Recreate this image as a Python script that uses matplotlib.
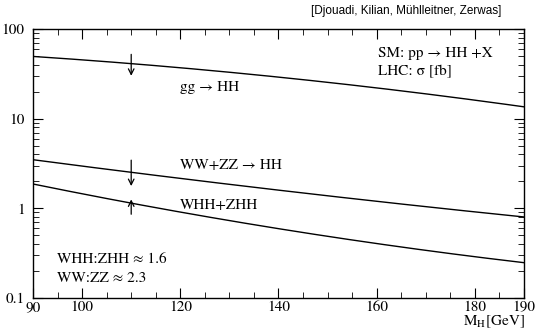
import matplotlib
matplotlib.use("Agg")
import matplotlib.pyplot as plt
from matplotlib.ticker import FixedLocator, NullFormatter, LogLocator
import numpy as np

# Higgs mass [GeV] and cross sections [fb]
mh = [90, 110, 138, 163, 190]
sigma_gg = [49.5, 41.4, 28.9, 21.8, 13.4]
mh_vv = [90, 110, 138, 160, 190]
sigma_vv = [3.5, 2.5, 1.65, 1.2, 0.80]
mh_vh = [90, 110, 138, 160, 190]
sigma_vh = [1.88, 1.14, 0.60, 0.42, 0.245]

plt.rcParams['font.family'] = ['STIXGeneral', 'Liberation Serif', 'DejaVu Serif']
plt.rcParams['mathtext.fontset'] = 'stix'

fig = plt.figure(figsize=(5.38, 3.34), dpi=100)
ax = fig.add_axes([33/538, 1 - 298/334, (524-33)/538, (298-29)/334])

def smooth(x, y):
    xs = np.linspace(x[0], x[-1], 200)
    # light smoothing via quadratic fit in log space
    c = np.polyfit(x, np.log10(y), 2)
    return xs, 10 ** np.polyval(c, xs)

for x, y in [(mh, sigma_gg), (mh_vv, sigma_vv), (mh_vh, sigma_vh)]:
    xs, ys = smooth(x, y)
    ax.plot(xs, ys, color='black', lw=1.0)

ax.set_yscale('log')
ax.set_xlim(90, 190)
ax.set_ylim(0.1, 100)

ax.xaxis.set_major_locator(FixedLocator([90, 100, 120, 140, 160, 180, 190]))
ax.xaxis.set_minor_locator(FixedLocator(list(range(95, 190, 5))))
ax.set_xticklabels(['90', '100', '120', '140', '160', '180', '190'])
ax.yaxis.set_major_locator(FixedLocator([0.1, 1, 10, 100]))
ax.set_yticklabels(['0.1', '1', '10', '100'])
ax.yaxis.set_minor_locator(LogLocator(base=10, subs=np.arange(2, 10)))
ax.yaxis.set_minor_formatter(NullFormatter())
ax.tick_params(which='both', direction='in', top=True, right=True, labelsize=11)
ax.tick_params(axis='x', pad=2)
ax.tick_params(axis='y', pad=6)
ax.tick_params(which='major', length=7)
ax.tick_params(which='minor', length=4)
for s in ax.spines.values():
    s.set_linewidth(1.0)

# arrows at M_H = 110
arr = dict(arrowstyle='->', color='black', lw=0.9)
ax.annotate('', xy=(110, 28), xytext=(110, 56), arrowprops=arr)
ax.annotate('', xy=(110, 1.65), xytext=(110, 3.7), arrowprops=arr)
ax.annotate('', xy=(110, 1.35), xytext=(110, 0.8), arrowprops=arr)

def at(px, py):
    return ((px - 33) / 491, (298 - py) / 269)

ax.text(*at(180, 87), 'gg → HH', fontsize=11, va='center', transform=ax.transAxes)
ax.text(*at(180, 165), 'WW+ZZ → HH', fontsize=11, va='center', transform=ax.transAxes)
ax.text(*at(180, 205), 'WHH+ZHH', fontsize=11, va='center', transform=ax.transAxes)
ax.text(*at(378, 53), 'SM: pp → HH +X', fontsize=11, va='center', transform=ax.transAxes)
ax.text(*at(378, 72), 'LHC: σ [fb]', fontsize=11, va='center', transform=ax.transAxes)
ax.text(*at(57, 259), 'WHH:ZHH ≈ 1.6', fontsize=11, va='center', transform=ax.transAxes)
ax.text(*at(57, 278), 'WW:ZZ ≈ 2.3', fontsize=11, va='center', transform=ax.transAxes)

fig.text(501/538, 1 - 11/334, '[Djouadi, Kilian, Mühlleitner, Zerwas]',
         family=['Liberation Sans', 'DejaVu Sans'], fontsize=8.5, ha='right', va='center')
fig.text(525/538, 1 - 322/334, r'M$_\mathrm{H}$[GeV]', fontsize=11, ha='right', va='center')

fig.savefig('out.png', dpi=100)
